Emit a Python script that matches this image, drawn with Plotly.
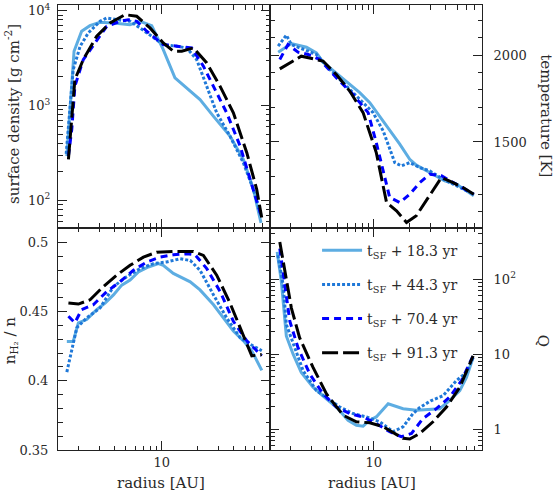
import plotly.graph_objects as go

# ---------------- data ----------------
series_labels = ["t<sub>SF</sub> + 18.3 yr", "t<sub>SF</sub> + 44.3 yr",
                 "t<sub>SF</sub> + 70.4 yr", "t<sub>SF</sub> + 91.3 yr"]

# surface density [g cm^-2] vs radius [AU]
sd_r_183 = [1.61, 1.85, 2.14, 2.51, 3.05, 3.94, 5.43, 6.59, 8.25, 10.3, 12.9, 20.9, 27.0, 37.2, 48.1, 58.3, 67.6]
sd_183 = [293, 3740, 6070, 6950, 7550, 7430, 7130, 7730, 6950, 3880, 1960, 1156, 773, 476, 270, 131, 58]
sd_r_443 = [1.59, 1.73, 1.82, 2.08, 2.43, 3.05, 3.47, 4.20, 5.43, 6.59, 8.51, 10.3, 13.3, 16.2, 19.6, 23.8, 28.8, 37.2, 48.1, 58.3, 67.6]
sd_443 = [310, 1256, 2390, 4220, 5820, 7730, 8380, 8040, 7730, 6580, 5160, 4390, 4220, 4050, 3050, 1600, 838, 476, 249, 131, 69]
sd_r_704 = [1.66, 1.77, 1.88, 2.21, 2.77, 3.47, 4.48, 5.26, 6.18, 7.49, 10.3, 14.2, 17.8, 22.3, 27.0, 34.9, 45.2, 58.3, 68.5]
sd_704 = [293, 558, 1600, 3050, 4570, 6850, 7730, 8040, 7730, 6070, 4390, 4220, 4050, 2600, 1600, 838, 374, 131, 66]
sd_r_913 = [1.66, 1.88, 2.21, 2.86, 3.70, 4.93, 6.18, 7.98, 10.3, 12.5, 14.7, 18.4, 23.8, 30.7, 39.7, 51.4, 62.2, 68.5]
sd_913 = [270, 1880, 3050, 5380, 7430, 9080, 8730, 6580, 4570, 3740, 3740, 4050, 2810, 1600, 838, 318, 131, 66]

# temperature [K]
t_r_183 = [1.59, 2.05, 2.74, 3.32, 3.77, 4.87, 6.30, 7.64, 9.27, 11.2, 13.6, 16.5, 20.0, 22.7, 29.4, 39.2, 49.1, 59.6, 68.6]
t_183 = [2017, 2067, 2046, 2013, 1960, 1898, 1831, 1784, 1726, 1649, 1563, 1487, 1400, 1366, 1324, 1276, 1257, 1218, 1190]
t_r_443 = [1.59, 1.86, 2.05, 2.57, 3.32, 4.29, 5.90, 7.64, 9.87, 12.0, 13.6, 15.0, 17.0, 20.0, 24.3, 29.4, 38.0, 49.1, 68.6]
t_443 = [2052, 2115, 2061, 2033, 2004, 1918, 1822, 1745, 1669, 1563, 1458, 1381, 1362, 1381, 1352, 1333, 1285, 1247, 1199]
t_r_704 = [1.64, 1.92, 2.33, 2.83, 3.54, 4.87, 6.71, 8.98, 10.5, 12.0, 13.6, 16.5, 20.0, 24.3, 29.4, 36.8, 49.1, 68.6]
t_704 = [1975, 2061, 2017, 2004, 1975, 1870, 1774, 1669, 1496, 1324, 1180, 1151, 1199, 1266, 1314, 1305, 1257, 1199]
t_r_913 = [1.64, 2.48, 3.77, 4.87, 6.30, 8.15, 10.5, 12.8, 15.5, 18.8, 22.7, 29.4, 36.8, 46.0, 55.8, 68.6]
t_913 = [1921, 1994, 1966, 1889, 1793, 1669, 1439, 1151, 1103, 1036, 1075, 1190, 1295, 1266, 1237, 1199]

# n_H2 / n
h_r_183 = [1.61, 1.82, 2.01, 2.36, 2.86, 3.36, 3.95, 4.63, 5.44, 6.38, 7.74, 9.38, 10.3, 12.5, 17.3, 20.9, 27.1, 32.8, 39.7, 48.2, 56.6, 68.6]
h_183 = [0.4283, 0.4283, 0.4419, 0.4442, 0.4514, 0.4561, 0.4620, 0.4691, 0.4727, 0.4786, 0.4822, 0.4846, 0.4834, 0.4775, 0.4715, 0.4656, 0.4549, 0.4454, 0.4359, 0.4288, 0.4217, 0.4075]
h_r_443 = [1.61, 1.77, 1.95, 2.36, 3.05, 3.95, 5.09, 6.59, 8.51, 11.0, 14.2, 17.3, 20.9, 27.1, 34.9, 45.2, 54.8, 68.6]
h_443 = [0.4063, 0.4217, 0.4383, 0.4454, 0.4525, 0.4680, 0.4751, 0.4810, 0.4846, 0.4858, 0.4881, 0.4869, 0.4798, 0.4620, 0.4454, 0.4312, 0.4264, 0.4217]
h_r_704 = [1.66, 1.88, 2.14, 2.68, 3.47, 4.48, 5.80, 7.50, 9.68, 12.5, 16.2, 19.0, 23.8, 30.8, 39.7, 51.4, 68.6]
h_704 = [0.4466, 0.4419, 0.4514, 0.4549, 0.4644, 0.4715, 0.4798, 0.4858, 0.4893, 0.4910, 0.4917, 0.4910, 0.4810, 0.4644, 0.4430, 0.4288, 0.4181]
h_r_913 = [1.66, 2.01, 2.52, 3.25, 4.21, 5.44, 7.03, 9.08, 12.5, 18.4, 22.3, 28.8, 37.2, 45.2, 56.6, 68.6]
h_913 = [0.4561, 0.4554, 0.4585, 0.4680, 0.4763, 0.4834, 0.4893, 0.4929, 0.4934, 0.4934, 0.4905, 0.4763, 0.4561, 0.4383, 0.4180, 0.4190]

# Toomre Q
q_r_183 = [1.56, 1.69, 1.86, 2.12, 2.48, 3.11, 4.02, 5.03, 6.10, 7.16, 8.15, 9.26, 10.5, 13.2, 17.6, 22.7, 35.6, 43.2, 52.4, 59.6, 67.7]
q_183 = [231, 92.7, 17.5, 10.0, 5.73, 3.63, 2.55, 1.88, 1.32, 1.13, 1.10, 1.32, 1.46, 2.19, 1.88, 1.79, 1.88, 2.43, 3.28, 4.92, 9.04]
q_r_443 = [1.58, 1.75, 1.86, 2.18, 2.57, 3.32, 4.29, 5.20, 6.71, 8.69, 11.2, 14.5, 17.6, 21.3, 24.3, 30.0, 38.0, 49.1, 59.6, 67.7]
q_443 = [208, 83.8, 24.9, 12.2, 6.03, 3.28, 2.43, 1.98, 1.62, 1.46, 1.26, 0.93, 1.08, 1.62, 1.95, 2.40, 2.80, 4.45, 5.73, 9.04]
q_r_704 = [1.64, 1.80, 1.99, 2.33, 2.92, 3.77, 4.87, 6.30, 8.15, 10.5, 13.6, 17.0, 20.7, 25.8, 33.4, 43.2, 54.1, 67.7]
q_704 = [255, 92.7, 27.5, 12.2, 5.44, 2.97, 1.98, 1.62, 1.46, 1.19, 0.93, 0.796, 0.88, 1.39, 1.88, 2.69, 4.45, 9.5]
q_r_913 = [1.64, 1.86, 2.05, 2.40, 3.11, 4.02, 5.55, 7.16, 9.26, 12.0, 15.5, 17.6, 20.0, 24.3, 31.3, 40.6, 52.4, 67.7]
q_913 = [313, 102, 41.2, 16.6, 6.67, 2.97, 1.54, 1.26, 1.22, 1.08, 0.837, 0.757, 0.741, 0.88, 1.26, 1.98, 3.63, 9.5]

# ---------------- style ----------------
colors = ["#5dade2", "#1f78d8", "#0000ff", "#000000"]
dashes = ["solid", "3px,2px", "7px,5px", "16px,5px"]
FONT = "DejaVu Serif"
TXT = "#2a2a2a"

panels = [
    ("x3", "y3", [(sd_r_183, sd_183), (sd_r_443, sd_443), (sd_r_704, sd_704), (sd_r_913, sd_913)]),
    ("x4", "y4", [(t_r_183, t_183), (t_r_443, t_443), (t_r_704, t_704), (t_r_913, t_913)]),
    ("x", "y", [(h_r_183, h_183), (h_r_443, h_443), (h_r_704, h_704), (h_r_913, h_913)]),
    ("x2", "y2", [(q_r_183, q_183), (q_r_443, q_443), (q_r_704, q_704), (q_r_913, q_913)]),
]

fig = go.Figure()
for xa, ya, data in panels:
    for i, (rr, vv) in enumerate(data):
        fig.add_trace(go.Scatter(
            x=rr, y=vv, xaxis=xa, yaxis=ya, mode="lines",
            line=dict(color=colors[i], width=3, dash=dashes[i]),
            name=series_labels[i], legendgroup=f"g{i}",
            showlegend=(xa == "x2"), hoverinfo="skip",
        ))

def log_minor(e0, e1):
    return [m * 10 ** e for e in range(e0, e1 + 1) for m in range(2, 10)]

LINE = "#222"
common = dict(showline=True, linecolor=LINE, linewidth=1, mirror="ticks",
              ticks="inside", ticklen=9, tickcolor=LINE, tickwidth=1,
              showgrid=False, zeroline=False, ticklabeloverflow="allow",
              tickfont=dict(family=FONT, size=13, color=TXT))
xminor = dict(tickmode="array", tickvals=log_minor(0, 1), ticks="inside",
              ticklen=4.5, tickcolor=LINE, showgrid=False)
XR = [0.133, 1.905]

fig.update_layout(
    width=555, height=492,
    margin=dict(l=58, r=73, t=2, b=42),
    paper_bgcolor="white", plot_bgcolor="white",
    font=dict(family=FONT, size=13, color=TXT),
    xaxis=dict(domain=[0, 0.5], type="log", range=XR, anchor="y",
               tickmode="array", tickvals=[10], ticktext=["10"], minor=xminor, **common),
    xaxis2=dict(domain=[0.5, 1], type="log", range=XR, anchor="y2",
                tickmode="array", tickvals=[10], ticktext=["10"], minor=xminor, **common),
    xaxis3=dict(domain=[0, 0.5], type="log", range=XR, anchor="y3",
                tickmode="array", tickvals=[10], showticklabels=False, minor=xminor, **common),
    xaxis4=dict(domain=[0.5, 1], type="log", range=XR, anchor="y4",
                tickmode="array", tickvals=[10], showticklabels=False, minor=xminor, **common),
    yaxis=dict(domain=[0, 0.5], range=[0.35, 0.5107], anchor="x",
               tickmode="array", tickvals=[0.35, 0.4, 0.45, 0.5],
               ticktext=["0.35", "0.4", "0.45", "0.5"], ticklabelstandoff=6,
               minor=dict(tickmode="array", tickvals=[0.35 + 0.01 * k for k in range(16)],
                          ticks="inside", ticklen=4.5, tickcolor=LINE, showgrid=False),
               **common),
    yaxis2=dict(domain=[0, 0.5], type="log", range=[-0.276, 2.688], anchor="x2", side="right",
                tickmode="array", tickvals=[1, 10, 100], ticktext=["1", "10", "10<sup>2</sup>"],
                ticklabelstandoff=8,
                minor=dict(tickmode="array", tickvals=log_minor(-1, 2), ticks="inside",
                           ticklen=4.5, tickcolor=LINE, showgrid=False),
                **common),
    yaxis3=dict(domain=[0.5, 1], type="log", range=[1.714, 4.06], anchor="x3",
                tickmode="array", tickvals=[100, 1000, 10000],
                ticktext=["10<sup>2</sup>", "10<sup>3</sup>", "10<sup>4</sup>"],
                ticklabelstandoff=4,
                minor=dict(tickmode="array", tickvals=log_minor(1, 3), ticks="inside",
                           ticklen=4.5, tickcolor=LINE, showgrid=False),
                **common),
    yaxis4=dict(domain=[0.5, 1], range=[1007, 2289], anchor="x4", side="right",
                tickmode="array", tickvals=[1500, 2000], ticktext=["1500", "2000"],
                ticklabelstandoff=8,
                minor=dict(tickmode="array", tickvals=list(range(1100, 2300, 100)),
                           ticks="inside", ticklen=4.5, tickcolor=LINE, showgrid=False),
                **common),
    legend=dict(x=0.611, y=0.484, xanchor="left", yanchor="top",
                bgcolor="rgba(0,0,0,0)", borderwidth=0,
                font=dict(family=FONT, size=14, color=TXT),
                traceorder="grouped", tracegroupgap=13, itemwidth=40),
    showlegend=True,
    hovermode=False,
)

ann = dict(xref="paper", yref="paper", showarrow=False,
           font=dict(family=FONT, size=15, color=TXT), xanchor="center", yanchor="middle")
fig.add_annotation(text="surface density [g cm<sup>-2</sup>]", x=-0.107, y=0.7545, textangle=-90, **ann)
fig.add_annotation(text="n<sub>H₂</sub> / n", x=-0.112, y=0.2455, textangle=-90, **ann)
fig.add_annotation(text="temperature [K]", x=1.151, y=0.752, textangle=90, **ann)
fig.add_annotation(text="Q", x=1.144, y=0.2455, textangle=90, **ann)
fig.add_annotation(text="radius [AU]", x=0.2424, y=-0.0737, **ann)
fig.add_annotation(text="radius [AU]", x=0.7403, y=-0.0737, **ann)

fig.write_html("out.html", config={"displayModeBar": False, "staticPlot": True},
               post_script="document.body.style.margin='0';document.body.style.padding='0';")
